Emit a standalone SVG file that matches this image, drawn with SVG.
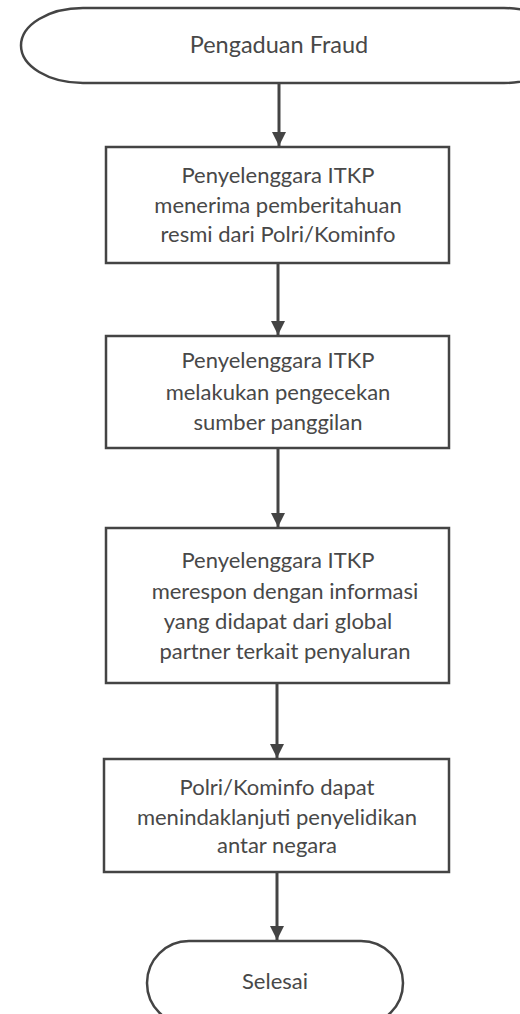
<svg xmlns="http://www.w3.org/2000/svg" width="520" height="1014" viewBox="0 0 520 1014">
  <defs>
    <marker id="arrow" viewBox="0 0 14 14" refX="14" refY="7" markerWidth="14" markerHeight="14" markerUnits="userSpaceOnUse" orient="auto">
      <path d="M0,0 L14,7 L0,14 Z" fill="#444"/>
    </marker>
    <style>
      .shape { fill: #fff; stroke: #444; stroke-width: 2.5; }
      .label { font-family: Lato, "Liberation Sans", sans-serif; font-size: 22px; fill: #484848; text-anchor: middle; }
      .title { font-size: 23.5px; }
      .edge { stroke: #444; stroke-width: 3; fill: none; }
    </style>
  </defs>
  <rect width="520" height="1014" fill="#fff"/>

  <g id="connectors">
    <line class="edge" x1="279" y1="83" x2="279" y2="146" marker-end="url(#arrow)"/>
    <line class="edge" x1="278" y1="263" x2="278" y2="335" marker-end="url(#arrow)"/>
    <line class="edge" x1="278" y1="448" x2="278" y2="527" marker-end="url(#arrow)"/>
    <line class="edge" x1="277" y1="683" x2="277" y2="758" marker-end="url(#arrow)"/>
    <line class="edge" x1="277" y1="872" x2="277" y2="940" marker-end="url(#arrow)"/>
  </g>

  <g id="start">
    <rect class="shape" x="21" y="8" width="545" height="75" rx="62" ry="37.5"/>
    <text class="label title" x="279" y="53">Pengaduan Fraud</text>
  </g>

  <g id="step1">
    <rect class="shape" x="106" y="147" width="343" height="116"/>
    <text class="label" x="278" y="183">Penyelenggara ITKP</text>
    <text class="label" x="278" y="213">menerima pemberitahuan</text>
    <text class="label" x="278" y="242">resmi dari Polri/Kominfo</text>
  </g>

  <g id="step2">
    <rect class="shape" x="106" y="336" width="343" height="112"/>
    <text class="label" x="278" y="368">Penyelenggara ITKP</text>
    <text class="label" x="278" y="400">melakukan pengecekan</text>
    <text class="label" x="278" y="430">sumber panggilan</text>
  </g>

  <g id="step3">
    <rect class="shape" x="106" y="528" width="343" height="155"/>
    <text class="label" x="278" y="568">Penyelenggara ITKP</text>
    <text class="label" x="285" y="599">merespon dengan informasi</text>
    <text class="label" x="278" y="629">yang didapat dari global</text>
    <text class="label" x="285" y="659">partner terkait penyaluran</text>
  </g>

  <g id="step4">
    <rect class="shape" x="104" y="759" width="345" height="113"/>
    <text class="label" x="277" y="795">Polri/Kominfo dapat</text>
    <text class="label" x="277" y="825">menindaklanjuti penyelidikan</text>
    <text class="label" x="277" y="853">antar negara</text>
  </g>

  <g id="end">
    <rect class="shape" x="147" y="941" width="256" height="84" rx="42" ry="42"/>
    <text class="label" x="275" y="989">Selesai</text>
  </g>
</svg>
